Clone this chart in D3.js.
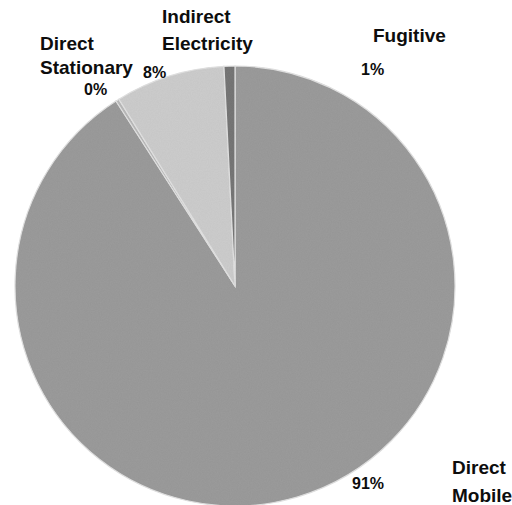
<!DOCTYPE html>
<html>
<head>
<meta charset="utf-8">
<script src="https://cdn.jsdelivr.net/npm/d3@7"></script>
<style>
  body { margin: 0; background: #fff; }
  .label { font-family: "Liberation Sans", Arial, sans-serif; font-weight: bold; fill: #0d0d0d; }
</style>
</head>
<body>
<svg id="chart"></svg>
<script>
// data (order clockwise from 12 o'clock)
const categories = ["Direct Mobile", "Direct Stationary", "Indirect Electricity", "Fugitive"];
const shares = [90.9, 0.25, 8.05, 0.8];
const pctLabels = ["91%", "0%", "8%", "1%"];

const colors = ["#9b9b9b", "#b9b9b9", "#cdcdcd", "#777777"];

// where the text sits on the page (name lines + percentage)
const labelLayout = [
  {name: [[452, 474, "Direct"], [452, 502, "Mobile"]], pct: [352, 489]},
  {name: [[40, 50, "Direct"], [40, 74, "Stationary"]], pct: [84, 95]},
  {name: [[162, 23, "Indirect"], [162, 50, "Electricity"]], pct: [143, 78]},
  {name: [[373, 42, "Fugitive"]], pct: [361, 75]}
];

const width = 512, height = 505;
const cx = 235, cy = 286, radius = 220;

const svg = d3.select("#chart")
    .attr("width", width)
    .attr("height", height);

// a little grain, the original is a scan
const defs = svg.append("defs");
const filt = defs.append("filter").attr("id", "grain");
filt.append("feTurbulence")
    .attr("type", "fractalNoise")
    .attr("baseFrequency", 0.9)
    .attr("numOctaves", 2)
    .attr("result", "noise");
filt.append("feColorMatrix")
    .attr("in", "noise")
    .attr("type", "matrix")
    .attr("values", "0 0 0 0 0  0 0 0 0 0  0 0 0 0 0  0 0 0 0.08 0")
    .attr("result", "dots");
filt.append("feComposite")
    .attr("in", "dots")
    .attr("in2", "SourceGraphic")
    .attr("operator", "in")
    .attr("result", "grainIn");
const merge = filt.append("feMerge");
merge.append("feMergeNode").attr("in", "SourceGraphic");
merge.append("feMergeNode").attr("in", "grainIn");

const data = categories.map((c, i) => ({name: c, value: shares[i], pct: pctLabels[i], color: colors[i]}));

const pie = d3.pie()
    .value(d => d.value)
    .sort(null);

const arc = d3.arc()
    .innerRadius(0)
    .outerRadius(radius);

const g = svg.append("g")
    .attr("transform", `translate(${cx},${cy})`);

g.selectAll(".slice")
    .data(pie(data))
  .join("path")
    .attr("class", "slice")
    .attr("d", arc)
    .attr("fill", d => d.data.color)
    .attr("stroke", "#e2e2e2")
    .attr("stroke-width", 1.2)
    .attr("filter", "url(#grain)");

// labels
data.forEach((d, i) => {
  const lay = labelLayout[i];
  lay.name.forEach(([x, y, t]) => {
    svg.append("text")
        .attr("class", "label")
        .attr("x", x)
        .attr("y", y)
        .style("font-size", "19px")
        .text(t);
  });
  svg.append("text")
      .attr("class", "label")
      .attr("x", lay.pct[0])
      .attr("y", lay.pct[1])
      .style("font-size", "16px")
      .text(d.pct);
});
</script>
</body>
</html>
